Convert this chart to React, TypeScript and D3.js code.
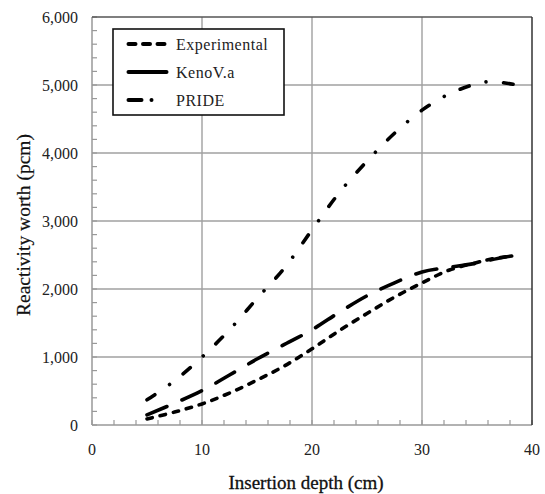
import React from "react";
import * as d3 from "d3";

const depth = [5, 7.5, 10, 12.5, 15, 17.5, 20, 22.5, 25, 27.5, 30, 32.5, 35, 36.3, 38.3];
const experimental = [90, 190, 310, 470, 660, 870, 1120, 1390, 1640, 1880, 2090, 2280, 2390, 2440, 2490];
const kenoVa = [150, 320, 505, 735, 970, 1185, 1400, 1660, 1900, 2090, 2250, 2320, 2380, 2430, 2490];
const pride = [370, 650, 1000, 1400, 1860, 2310, 2870, 3420, 3880, 4290, 4630, 4870, 5020, 5050, 5010];
const xTicks = [0, 10, 20, 30, 40];
const yTicks = [0, 1000, 2000, 3000, 4000, 5000, 6000];
const seriesNames = ["Experimental", "KenoV.a", "PRIDE"];

const W = 545, H = 494;
const L = 92, R = 532, T = 17, B = 425;
const FONT = "'Liberation Serif', 'Times New Roman', serif";

export default function App() {
  const x = d3.scaleLinear().domain([0, 40]).range([L, R]);
  const y = d3.scaleLinear().domain([0, 6000]).range([B, T]);
  const line = (vals: number[]) =>
    d3.line<number>().x((_, i) => x(depth[i])).y((v) => y(v)).curve(d3.curveCatmullRom.alpha(0.5))(vals) || "";

  const minorX = d3.range(0, 40.01, 2);
  const minorY = d3.range(0, 6000.1, 200);
  const styles = [
    { dash: "5.5 8", data: experimental },
    { dash: "21.5 16.5", data: kenoVa },
    { dash: "9.5 17.5 0.01 17.5", data: pride },
  ];
  const fmt = d3.format(",");

  return (
    <svg width={W} height={H} style={{ position: "absolute", left: 0, top: 0, background: "#fff" }}>
      <rect x={0} y={0} width={W} height={H} fill="#fff" />
      {/* grid */}
      {xTicks.slice(1, -1).map((t) => (
        <line key={"gx" + t} x1={x(t)} x2={x(t)} y1={T} y2={B} stroke="#a0a0a0" strokeWidth={1.4} />
      ))}
      {yTicks.slice(1, -1).map((t) => (
        <line key={"gy" + t} x1={L} x2={R} y1={y(t)} y2={y(t)} stroke="#a0a0a0" strokeWidth={1.4} />
      ))}
      {/* minor ticks */}
      {minorX.map((t) => (
        <line key={"mx" + t} x1={x(t)} x2={x(t)} y1={B} y2={B - 5} stroke="#999" strokeWidth={1.2} />
      ))}
      {minorY.map((t) => (
        <line key={"my" + t} x1={L} x2={L + 5} y1={y(t)} y2={y(t)} stroke="#999" strokeWidth={1.2} />
      ))}
      {/* frame */}
      <line x1={L} x2={R} y1={B} y2={B} stroke="#999" strokeWidth={1.5} />
      <line x1={L} x2={L} y1={T} y2={B} stroke="#999" strokeWidth={1.5} />
      <line x1={L} x2={R} y1={T} y2={T} stroke="#555" strokeWidth={1.5} />
      <line x1={R} x2={R} y1={T} y2={B} stroke="#333" strokeWidth={1.5} />
      {/* series */}
      {styles.map((s, i) => (
        <path key={"s" + i} d={line(s.data)} fill="none" stroke="#000" strokeWidth={3.6}
          strokeDasharray={s.dash} strokeLinecap="round" />
      ))}
      {/* tick labels */}
      {yTicks.map((t) => (
        <text key={"yl" + t} x={78} y={y(t) + 5.5} textAnchor="end" fontFamily={FONT} fontSize={16} fill="#222">
          {fmt(t)}
        </text>
      ))}
      {xTicks.map((t) => (
        <text key={"xl" + t} x={x(t)} y={455} textAnchor="middle" fontFamily={FONT} fontSize={16} fill="#222">
          {t}
        </text>
      ))}
      <text x={306} y={489} textAnchor="middle" fontFamily={FONT} fontSize={19} fill="#111" stroke="#111" strokeWidth={0.3}>
        Insertion depth (cm)
      </text>
      <text transform={`translate(30,225) rotate(-90)`} textAnchor="middle" fontFamily={FONT} fontSize={19.5} fill="#111" stroke="#111" strokeWidth={0.2}>
        Reactivity worth (pcm)
      </text>
      {/* legend */}
      <rect x={113} y={29} width={171} height={86} fill="#fff" stroke="#111" strokeWidth={1.6} />
      {seriesNames.map((n, i) => {
        const ly = 44 + i * 28;
        const dashes = ["7 7.5", "none", "13 10 0.01 20"];
        return (
          <g key={"lg" + i}>
            <line x1={128.5} x2={i === 2 ? 160 : 166.5} y1={ly} y2={ly} stroke="#000" strokeWidth={4}
              strokeDasharray={dashes[i]} strokeLinecap="round" />
            <text x={176} y={ly + 5.5} fontFamily={FONT} fontSize={16} letterSpacing={0.5} fill="#222">{n}</text>
          </g>
        );
      })}
    </svg>
  );
}
